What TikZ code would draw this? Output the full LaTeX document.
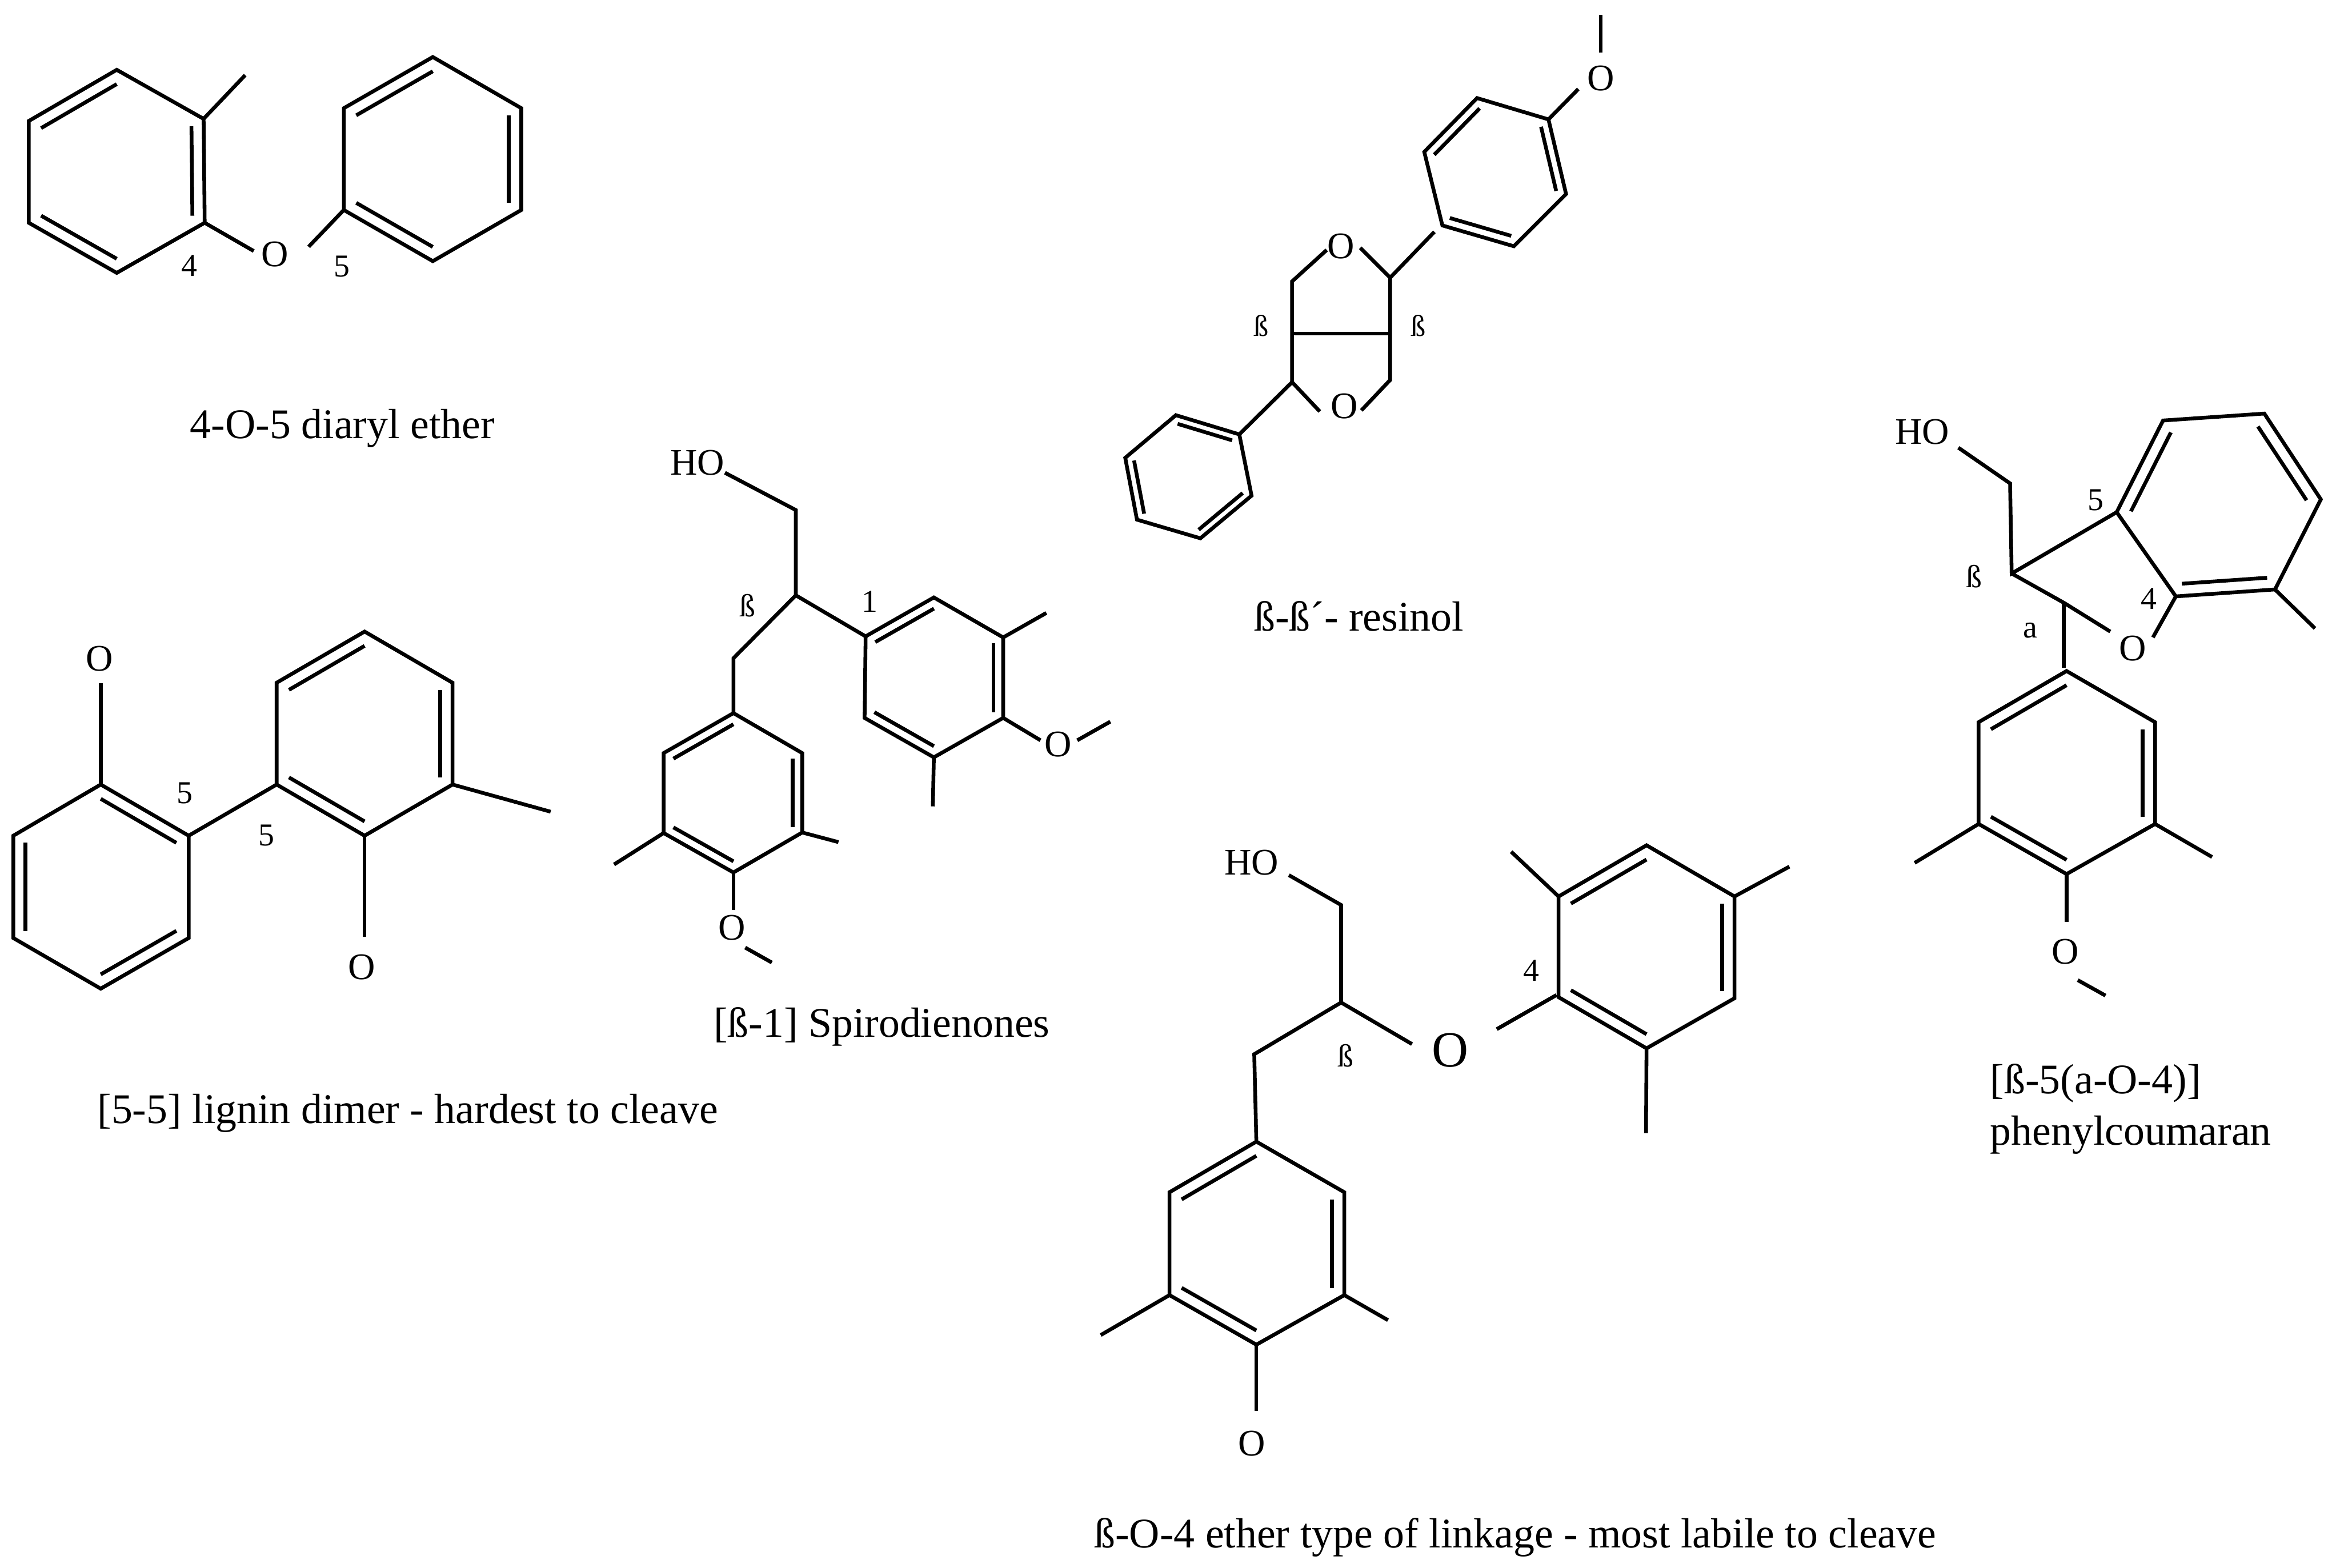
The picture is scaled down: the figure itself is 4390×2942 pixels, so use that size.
\documentclass[tikz,border=0pt]{standalone}
\usepackage{fontspec}
\setmainfont{Liberation Serif}
\usetikzlibrary{calc}

\newcommand{\phring}[7]{%
	\coordinate (#1a) at #2;
	\coordinate (#1b) at #3;
	\coordinate (#1c) at #4;
	\coordinate (#1d) at #5;
	\coordinate (#1e) at #6;
	\coordinate (#1f) at #7;
	\coordinate (#1o) at ($(#1a)!0.5!(#1d)$);
	\draw[bond] (#1a) -- (#1b) -- (#1c) -- (#1d) -- (#1e) -- (#1f) -- cycle;
	\draw[bond] ($(#1o)!0.86!(#1a)$) -- ($(#1o)!0.86!(#1b)$);
	\draw[bond] ($(#1o)!0.86!(#1c)$) -- ($(#1o)!0.86!(#1d)$);
	\draw[bond] ($(#1o)!0.86!(#1e)$) -- ($(#1o)!0.86!(#1f)$);
}

\begin{document}
\begin{tikzpicture}[x=0.01cm,y=-0.01cm]
		\tikzstyle{bond}=[draw=black,line width=2pt]
		\tikzstyle{atom}=[inner sep=0pt,font=\fontsize{20}{24}\selectfont]
		\tikzstyle{bigatom}=[inner sep=0pt,font=\fontsize{27}{32}\selectfont]
		\tikzstyle{locant}=[inner sep=0pt,font=\fontsize{17}{20}\selectfont]
		\tikzstyle{caption}=[inner sep=0pt,anchor=base west,font=\fontsize{22.5}{27}\selectfont]
		\path[use as bounding box,fill=white] (0,0) rectangle (4390,2942);

		% 4-O-5 diaryl ether
		\phring{p}{(54,227)}{(219,131)}{(382,223)}{(384,418)}{(219,512)}{(54,418)}
		\phring{q}{(645,203)}{(812,107)}{(978,203)}{(978,394)}{(812,490)}{(645,394)}
		\node[atom] (O1) at (516,477) {O};
		\coordinate (O1w) at (476,471);
		\coordinate (O1e) at (579,463);
		\coordinate (m1) at (460,141);
		\draw[bond] (pc) -- (m1);
		\draw[bond] (pd) -- (O1w);
		\draw[bond] (O1e) -- (qf);
		\node[locant] (n4a) at (355,498) {4};
		\node[locant] (n5a) at (641,500) {5};
		\node[caption] (c1) at (356,823) {4-O-5 diaryl ether};

		% 5-5 dimer
		\phring{r}{(189,1472)}{(354,1568)}{(354,1760)}{(189,1855)}{(25,1760)}{(25,1568)}
		\phring{s}{(519,1281)}{(684,1185)}{(849,1281)}{(849,1472)}{(684,1568)}{(519,1472)}
		\node[atom] (O2) at (187,1236) {O};
		\node[atom] (O3) at (679,1815) {O};
		\coordinate (O2s) at (189,1282);
		\coordinate (O3n) at (684,1758);
		\coordinate (m2) at (1033,1523);
		\draw[bond] (ra) -- (O2s);
		\draw[bond] (rb) -- (sf);
		\draw[bond] (sd) -- (m2);
		\draw[bond] (se) -- (O3n);
		\node[locant] (n5b) at (347,1488) {5};
		\node[locant] (n5c) at (500,1568) {5};
		\node[caption] (c2) at (182,2108) {[5-5] lignin dimer - hardest to cleave};

		% spirodienone
		\phring{t}{(1624,1194)}{(1752,1121)}{(1882,1196)}{(1882,1347)}{(1752,1421)}{(1622,1347)}
		\phring{u}{(1376,1338)}{(1245,1413)}{(1245,1563)}{(1376,1637)}{(1505,1562)}{(1505,1413)}
		\node[atom] (HO1) at (1308,868) {HO};
		\node[atom] (O4) at (1985,1397) {O};
		\node[atom] (O5) at (1373,1741) {O};
		\coordinate (HO1e) at (1360,887);
		\coordinate (k1) at (1493,957);
		\coordinate (k2) at (1493,1117);
		\coordinate (k3) at (1376,1235);
		\coordinate (m3) at (1963,1150);
		\coordinate (m4) at (1750,1513);
		\coordinate (m5) at (2083,1354);
		\coordinate (m6) at (1573,1580);
		\coordinate (m7) at (1152,1622);
		\coordinate (m8) at (1448,1806);
		\coordinate (O4w) at (1952,1389);
		\coordinate (O4e) at (2021,1389);
		\coordinate (O5n) at (1376,1707);
		\coordinate (O5e) at (1398,1778);
		\draw[bond] (HO1e) -- (k1) -- (k2) -- (k3) -- (ua);
		\draw[bond] (k2) -- (ta);
		\draw[bond] (tc) -- (m3);
		\draw[bond] (te) -- (m4);
		\draw[bond] (td) -- (O4w);
		\draw[bond] (O4e) -- (m5);
		\draw[bond] (ue) -- (m6);
		\draw[bond] (uc) -- (m7);
		\draw[bond] (ud) -- (O5n);
		\draw[bond] (O5e) -- (m8);
		\node[locant] (b1) at (1402,1136) {ß};
		\node[locant] (n1) at (1632,1129) {1};
		\node[caption] (c3) at (1338,1946) {[ß-1] Spirodienones};

		% resinol
		\phring{v}{(2771,184)}{(2672,285)}{(2706,423)}{(2840,462)}{(2938,364)}{(2905,224)}
		\phring{w}{(2325,815)}{(2206,779)}{(2111,859)}{(2133,975)}{(2252,1010)}{(2348,930)}
		\node[atom] (O6) at (3003,147) {O};
		\node[atom] (O7) at (2516,462) {O};
		\node[atom] (O8) at (2522,762) {O};
		\coordinate (m9) at (3003,28);
		\coordinate (O6n) at (3003,99);
		\coordinate (O6w) at (2961,167);
		\coordinate (f1) at (2691,435);
		\coordinate (j1) at (2608,521);
		\coordinate (j2) at (2424,528);
		\coordinate (j3) at (2424,626);
		\coordinate (j4) at (2608,626);
		\coordinate (j5) at (2424,717);
		\coordinate (j6) at (2608,713);
		\coordinate (O7w) at (2489,469);
		\coordinate (O7e) at (2552,465);
		\coordinate (O8w) at (2476,772);
		\coordinate (O8e) at (2554,770);
		\draw[bond] (m9) -- (O6n);
		\draw[bond] (O6w) -- (vf);
		\draw[bond] (f1) -- (j1) -- (O7e);
		\draw[bond] (O7w) -- (j2) -- (j5) -- (O8w);
		\draw[bond] (j1) -- (j6) -- (O8e);
		\draw[bond] (j3) -- (j4);
		\draw[bond] (j5) -- (wa);
		\node[locant,font=\fontsize{16}{19}\selectfont] (b2) at (2366,611) {ß};
		\node[locant,font=\fontsize{16}{19}\selectfont] (b3) at (2661,611) {ß};
		\node[caption] (c4) at (2352,1184) {ß-ß´- resinol};

		% beta-O-4
		\phring{x}{(2924,1682)}{(3089,1586)}{(3254,1682)}{(3254,1873)}{(3089,1967)}{(2924,1871)}
		\phring{y}{(2357,2142)}{(2194,2237)}{(2194,2430)}{(2357,2523)}{(2522,2430)}{(2522,2237)}
		\node[atom] (HO2) at (2348,1619) {HO};
		\node[bigatom] (O9) at (2721,1971) {O};
		\node[atom] (O10) at (2348,2708) {O};
		\coordinate (HO2e) at (2418,1642);
		\coordinate (h1) at (2516,1698);
		\coordinate (h2) at (2516,1881);
		\coordinate (h3) at (2353,1978);
		\coordinate (O9w) at (2649,1959);
		\coordinate (O9e) at (2808,1931);
		\coordinate (x4) at (2920,1867);
		\coordinate (O10n) at (2357,2647);
		\coordinate (m10) at (2835,1598);
		\coordinate (m11) at (3357,1626);
		\coordinate (m12) at (3088,2126);
		\coordinate (m13) at (2065,2505);
		\coordinate (m14) at (2604,2477);
		\draw[bond] (HO2e) -- (h1) -- (h2) -- (h3) -- (ya);
		\draw[bond] (h2) -- (O9w);
		\draw[bond] (O9e) -- (x4);
		\draw[bond] (xa) -- (m10);
		\draw[bond] (xc) -- (m11);
		\draw[bond] (xe) -- (m12);
		\draw[bond] (yc) -- (m13);
		\draw[bond] (ye) -- (m14);
		\draw[bond] (yd) -- (O10n);
		\node[locant] (n4b) at (2873,1821) {4};
		\node[locant] (b4) at (2524,1981) {ß};
		\node[caption] (c5) at (2052,2904) {ß-O-4 ether type of linkage - most labile to cleave};

		% phenylcoumaran
		\phring{z}{(3971,961)}{(4058,789)}{(4248,776)}{(4354,937)}{(4268,1106)}{(4082,1119)}
		\phring{l}{(3877,1259)}{(3712,1355)}{(3712,1546)}{(3877,1640)}{(4043,1546)}{(4043,1355)}
		\node[atom] (HO3) at (3606,810) {HO};
		\node[atom] (O11) at (4001,1217) {O};
		\node[atom] (O12) at (3875,1786) {O};
		\coordinate (HO3e) at (3674,840);
		\coordinate (g1) at (3771,907);
		\coordinate (g2) at (3774,1076);
		\coordinate (g3) at (3872,1131);
		\coordinate (g4) at (3872,1253);
		\coordinate (O11w) at (3959,1185);
		\coordinate (O11e) at (4039,1196);
		\coordinate (O12n) at (3877,1730);
		\coordinate (O12e) at (3898,1839);
		\coordinate (m15) at (4343,1179);
		\coordinate (m16) at (3592,1619);
		\coordinate (m17) at (4150,1608);
		\coordinate (m18) at (3950,1868);
		\draw[bond] (HO3e) -- (g1) -- (g2) -- (za);
		\draw[bond] (g2) -- (g3) -- (O11w);
		\draw[bond] (g3) -- (g4);
		\draw[bond] (O11e) -- (zf);
		\draw[bond] (ze) -- (m15);
		\draw[bond] (lc) -- (m16);
		\draw[bond] (le) -- (m17);
		\draw[bond] (ld) -- (O12n);
		\draw[bond] (O12e) -- (m18);
		\node[locant] (n5d) at (3932,938) {5};
		\node[locant] (n4c) at (4031,1123) {4};
		\node[locant] (b5) at (3703,1082) {ß};
		\node[locant] (a1) at (3809,1183) {a};
		\node[caption] (c6) at (3733,2052) {[ß-5(a-O-4)]};
		\node[caption] (c7) at (3733,2148) {phenylcoumaran};
	\end{tikzpicture}
\end{document}
